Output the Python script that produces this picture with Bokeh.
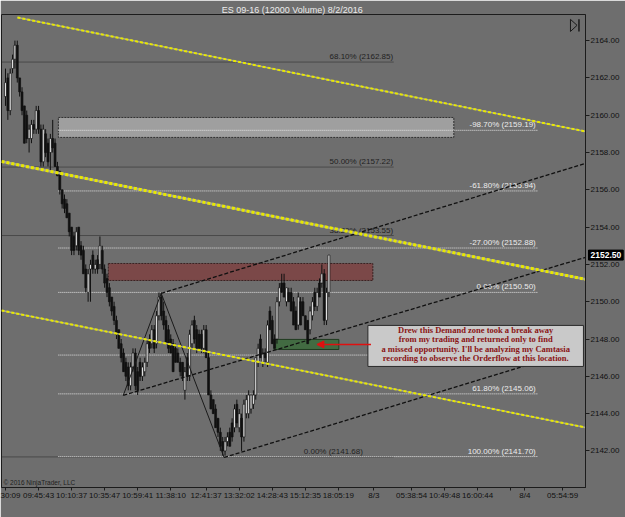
from bokeh.plotting import figure
from bokeh.models import Range1d, FixedTicker, PrintfTickFormatter, Label, Arrow, NormalHead, ColumnDataSource
from bokeh.core.properties import value
from bokeh.embed import file_html
from bokeh.resources import INLINE

title_text = "ES 09-16 (12000 Volume)  8/2/2016"

opens = [2161.0, 2162.0, 2160.25, 2162.5, 2163.0, 2163.75, 2162.0, 2161.25, 2160.5, 2160.0,
         2158.75, 2158.75, 2159.5, 2159.25, 2160.25, 2159.25, 2157.5, 2159.0, 2158.5, 2158.0,
         2158.75, 2158.5, 2157.25, 2157.0, 2156.0, 2155.5, 2155.25, 2154.75, 2154.0, 2153.5,
         2153.0, 2154.0, 2153.0, 2152.75, 2151.75, 2150.5, 2151.75, 2152.5, 2151.75, 2152.25,
         2152.0, 2152.75, 2151.75, 2151.25, 2150.75, 2150.25, 2149.75, 2149.0, 2148.5, 2147.75,
         2147.25, 2146.75, 2146.5, 2145.5, 2146.5, 2147.25, 2146.25, 2146.75, 2146.0, 2146.25,
         2146.75, 2148.0, 2147.75, 2148.5, 2147.75, 2149.25, 2150.25, 2149.5, 2149.0, 2148.5,
         2148.0, 2147.75, 2147.5, 2147.25, 2146.75, 2146.75, 2145.25, 2147.0, 2146.0, 2147.75,
         2149.0, 2148.5, 2148.25, 2148.25, 2147.5, 2148.5, 2147.0, 2145.0, 2144.75, 2144.25,
         2143.75, 2143.0, 2142.5, 2142.0, 2142.5, 2143.0, 2143.5, 2143.25, 2144.5, 2143.25,
         2143.75, 2142.75, 2144.0, 2144.0, 2144.25, 2144.5, 2145.0, 2146.75, 2148.0, 2146.75,
         2147.25, 2146.75, 2149.5, 2149.0, 2148.0, 2148.0, 2150.0, 2151.0, 2151.0, 2150.0,
         2150.5, 2150.5, 2150.0, 2149.5, 2148.75, 2150.0, 2150.0, 2149.25, 2149.0, 2148.5,
         2149.25, 2150.5, 2149.75, 2151.0, 2151.0, 2151.5, 2149.0, 2150.5]
highs = [2162.5, 2162.25, 2162.5, 2163.25, 2164.0, 2164.0, 2162.0, 2161.5, 2160.5, 2160.25,
         2159.5, 2159.75, 2159.75, 2160.5, 2160.5, 2159.5, 2159.5, 2159.25, 2158.75, 2159.0,
         2159.75, 2158.75, 2157.5, 2157.0, 2156.0, 2155.75, 2155.5, 2154.75, 2154.0, 2153.75,
         2154.0, 2154.0, 2153.25, 2153.0, 2152.0, 2151.75, 2152.25, 2152.75, 2152.25, 2152.5,
         2153.5, 2153.0, 2152.0, 2151.5, 2151.0, 2150.25, 2150.0, 2149.25, 2148.5, 2148.0,
         2147.5, 2147.0, 2146.75, 2146.75, 2147.5, 2147.5, 2146.5, 2147.0, 2146.75, 2147.0,
         2148.0, 2148.25, 2148.75, 2148.75, 2149.5, 2150.5, 2150.5, 2150.0, 2149.25, 2148.75,
         2148.25, 2148.0, 2147.75, 2147.5, 2147.0, 2146.75, 2146.5, 2147.25, 2148.5, 2149.0,
         2149.25, 2148.75, 2148.5, 2148.5, 2148.75, 2148.75, 2147.25, 2145.25, 2144.75, 2144.5,
         2143.75, 2143.25, 2142.75, 2142.75, 2143.0, 2143.25, 2143.75, 2144.5, 2144.75, 2144.25,
         2144.0, 2144.75, 2145.0, 2145.25, 2145.0, 2145.25, 2147.0, 2147.75, 2148.25, 2147.5,
         2147.5, 2149.0, 2149.75, 2149.25, 2148.25, 2150.25, 2151.0, 2151.5, 2151.5, 2150.75,
         2150.75, 2150.75, 2150.25, 2149.75, 2150.5, 2150.25, 2150.25, 2149.25, 2149.0, 2149.75,
         2150.25, 2150.75, 2150.75, 2151.25, 2152.0, 2151.75, 2150.75, 2152.5]
lows = [2160.5, 2159.75, 2160.0, 2162.25, 2162.5, 2161.75, 2161.0, 2160.0, 2158.5, 2158.5,
        2158.0, 2158.5, 2159.0, 2159.0, 2159.0, 2157.25, 2157.25, 2157.75, 2157.25, 2157.0,
        2158.0, 2157.25, 2156.75, 2155.75, 2155.0, 2154.75, 2154.5, 2153.5, 2152.5, 2152.5,
        2152.75, 2152.5, 2152.25, 2151.5, 2150.5, 2150.0, 2150.0, 2151.5, 2151.5, 2151.5,
        2151.75, 2151.5, 2150.75, 2150.25, 2149.75, 2149.25, 2148.75, 2148.0, 2147.5, 2146.75,
        2146.25, 2145.75, 2145.25, 2145.25, 2146.25, 2145.25, 2145.0, 2145.75, 2145.75, 2146.0,
        2146.5, 2147.25, 2147.5, 2147.25, 2147.5, 2149.0, 2149.0, 2148.5, 2147.75, 2147.25,
        2147.25, 2146.25, 2146.75, 2146.75, 2146.0, 2145.75, 2144.75, 2145.75, 2145.75, 2147.5,
        2147.75, 2147.25, 2147.5, 2147.25, 2147.25, 2147.0, 2145.0, 2144.25, 2144.0, 2143.25,
        2142.75, 2142.0, 2141.75, 2141.75, 2142.25, 2142.25, 2142.5, 2143.0, 2143.25, 2143.0,
        2142.0, 2142.5, 2143.75, 2143.75, 2144.0, 2144.25, 2144.75, 2146.5, 2147.0, 2146.5,
        2146.75, 2146.5, 2148.5, 2147.75, 2147.5, 2147.75, 2149.75, 2150.5, 2150.25, 2149.75,
        2150.0, 2149.5, 2148.75, 2148.5, 2148.5, 2148.75, 2149.25, 2148.5, 2147.75, 2148.25,
        2149.0, 2149.5, 2149.5, 2150.25, 2150.75, 2148.75, 2148.75, 2150.25]
closes = [2161.75, 2160.25, 2162.25, 2163.0, 2163.75, 2162.0, 2161.25, 2160.25, 2158.5, 2158.75,
          2159.25, 2159.5, 2159.25, 2160.25, 2159.25, 2157.5, 2159.25, 2158.0, 2157.5, 2158.75,
          2158.25, 2157.25, 2156.75, 2156.0, 2155.25, 2155.0, 2154.5, 2153.75, 2152.75, 2152.75,
          2153.75, 2152.75, 2152.5, 2151.5, 2150.75, 2151.5, 2152.0, 2151.75, 2152.0, 2151.75,
          2153.0, 2151.75, 2151.0, 2150.5, 2150.0, 2149.5, 2149.0, 2148.25, 2147.5, 2147.0,
          2146.25, 2146.0, 2145.5, 2146.5, 2147.25, 2145.5, 2145.25, 2146.0, 2146.5, 2146.75,
          2147.75, 2147.5, 2148.5, 2147.5, 2149.25, 2150.25, 2149.25, 2148.75, 2147.75, 2147.5,
          2147.25, 2146.25, 2146.75, 2146.75, 2146.25, 2146.0, 2146.25, 2146.0, 2148.25, 2148.75,
          2148.0, 2147.5, 2147.5, 2147.5, 2148.5, 2147.0, 2145.0, 2144.25, 2144.0, 2143.25,
          2143.0, 2142.25, 2142.0, 2142.5, 2142.75, 2142.25, 2142.75, 2144.25, 2143.5, 2144.0,
          2142.75, 2144.5, 2144.75, 2145.0, 2145.0, 2145.0, 2147.0, 2147.5, 2147.0, 2147.25,
          2147.0, 2148.75, 2148.5, 2147.75, 2147.5, 2150.0, 2150.75, 2150.5, 2150.25, 2150.75,
          2150.0, 2149.5, 2148.75, 2148.5, 2150.25, 2148.75, 2149.25, 2148.5, 2147.75, 2149.5,
          2150.0, 2149.75, 2150.5, 2150.25, 2151.5, 2149.0, 2150.5, 2152.5]

time_ticks = [0, 14, 28, 42, 56, 70, 85, 99, 113, 127, 141, 156, 172, 186, 200, 214, 220, 236]
time_labels = ["30:09", "09:45:43", "10:10:37", "10:35:47", "10:59:41", "11:38:10", "12:41:37",
               "13:32:02", "14:28:43", "15:12:35", "18:05:19", "8/3", "05:38:54", "10:49:48",
               "16:00:44", "", "8/4", "05:54:59"]
price_ticks = [2142, 2144, 2146, 2148, 2150, 2152, 2154, 2156, 2158, 2160, 2162, 2164]
last_price = 2152.50

# Fibonacci retracement (left, dark) and extension (right, white)
left_fib_levels = [2162.85, 2157.22, 2153.55, 2141.68]
left_fib_labels = ["68.10% (2162.85)", "50.00% (2157.22)", "38.20% (2153.55)", "0.00% (2141.68)"]
left_fib_span = [-1.69, 164.5]
right_fib_levels = [2159.19, 2155.94, 2152.88, 2150.50, 2147.14, 2145.06, 2141.70]
right_fib_labels = ["-98.70% (2159.19)", "-61.80% (2155.94)", "-27.00% (2152.88)", "0.00% (2150.50)",
                    "", "61.80% (2145.06)", "100.00% (2141.70)"]
right_fib_span = [22.4, 225.4]

# yellow trend lines  (bar index, price)
yellow_x0 = [5.07, -1.69, -1.69]
yellow_y0 = [2165.24, 2157.52, 2149.53]
yellow_x1 = [245.67, 245.67, 245.67]
yellow_y1 = [2159.13, 2151.20, 2143.26]
yellow_w = [2, 3, 2]

# black dashed channel lines
chan_x0 = [65.96, 49.89, 92.6]
chan_y0 = [2150.45, 2144.98, 2141.65]
chan_x1 = [245.67, 245.67, 245.67]
chan_y1 = [2157.42, 2152.38, 2147.55]

# zigzag pivots
pivot_x = [49.89, 65.96, 92.6]
pivot_y = [2144.98, 2150.45, 2141.65]

# zones: left, right, top, bottom
supply_zone = [22.4, 189.9, 2159.88, 2158.81]
red_zone = [43.55, 155.6, 2152.05, 2151.14]
demand_zone = [113.7, 141.2, 2147.98, 2147.44]
note_box = [153.5, 244.8, 2148.73, 2146.53]
note_lines = ["Drew this Demand zone took a break away",
              "from my trading and returned only to find",
              "a missed opportunity. I'll be analyzing my Camtasia",
              "recording to observe the Orderflow at this location."]
arrow_from = [154.8, 2147.71]
arrow_to = [131.9, 2147.71]

BG = "#6e6e6e"
DARK = "#1c1c1c"

p = figure(frame_width=584, frame_height=473, min_border_left=1, min_border_right=40,
           min_border_top=14, min_border_bottom=30,
           x_range=Range1d(-1.69, 245.67), y_range=Range1d(2140.04, 2165.40),
           y_axis_location="right", output_backend="svg", toolbar_location=None,
           background_fill_color=BG, border_fill_color=BG, outline_line_color=DARK)

p.title.text = title_text
p.title.align = "center"
p.title.text_color = "#ececec"
p.title.text_font = "Liberation Sans"
p.title.text_font_size = "9px"
p.title.text_font_style = "normal"
p.title.standoff = 0

p.grid.visible = False

ya = p.yaxis[0]
ya.ticker = FixedTicker(ticks=price_ticks)
ya.formatter = PrintfTickFormatter(format="%.2f")
ya.major_label_text_font = "Liberation Sans"
ya.major_label_text_font_size = "8px"
ya.major_label_text_color = "#111111"
ya.axis_line_color = DARK
ya.major_tick_line_color = DARK
ya.major_tick_out = 4
ya.major_tick_in = 0
ya.minor_tick_out = 0
ya.minor_tick_in = 0
ya.major_label_standoff = 1

xa = p.xaxis[0]
xa.ticker = FixedTicker(ticks=time_ticks)
xa.major_label_overrides = {t: lab for t, lab in zip(time_ticks, time_labels)}
xa.major_label_text_font = "Liberation Sans"
xa.major_label_text_font_size = "8px"
xa.major_label_text_color = "#111111"
xa.axis_line_color = DARK
xa.major_tick_line_color = DARK
xa.major_tick_out = 3
xa.major_tick_in = 0
xa.minor_tick_out = 0
xa.minor_tick_in = 0
xa.major_label_standoff = 0

# supply zone (grey)
p.quad(left=[supply_zone[0]], right=[supply_zone[1]], top=[supply_zone[2]], bottom=[supply_zone[3]],
       fill_color="#a4a4a4", fill_alpha=0.9, line_color="#2e2e2e", line_width=1, line_dash="2 1")
# red zone
p.quad(left=[red_zone[0]], right=[red_zone[1]], top=[red_zone[2]], bottom=[red_zone[3]],
       fill_color="#7b4646", fill_alpha=0.95, line_color="#3a2222", line_width=1, line_dash="2 1")
# demand zone (green)
p.quad(left=[demand_zone[0]], right=[demand_zone[1]], top=[demand_zone[2]], bottom=[demand_zone[3]],
       fill_color="#3f6a3f", fill_alpha=0.95, line_color="#1f3a1f", line_width=1)

# fib lines
n_l = len(left_fib_levels)
p.segment(x0=[left_fib_span[0]] * n_l, x1=[left_fib_span[1]] * n_l, y0=left_fib_levels, y1=left_fib_levels,
          line_color="#262626", line_width=1, line_dash="1 1")
n_r = len(right_fib_levels)
p.segment(x0=[right_fib_span[0]] * n_r, x1=[right_fib_span[1]] * n_r, y0=right_fib_levels, y1=right_fib_levels,
          line_color="#e4e4e4", line_width=1, line_dash="1 1")

# fib labels
lab_x_left = [left_fib_span[1] - 0.3] * (n_l - 1) + [151.4]
p.text(x=lab_x_left, y=left_fib_levels, text=left_fib_labels, text_align="right", text_baseline="bottom",
       y_offset=-1, text_font=value("Liberation Sans"), text_font_size="8px", text_color="#222222")
p.text(x=[right_fib_span[1] - 0.8] * n_r, y=right_fib_levels, text=right_fib_labels, text_align="right",
       text_baseline="bottom", y_offset=-1, text_font=value("Liberation Sans"), text_font_size="8px",
       text_color="#ececec")

# candlesticks
n = len(opens)
idx = list(range(n))
src = ColumnDataSource(dict(
    x=idx, h=highs, l=lows,
    top=[max(o, c) for o, c in zip(opens, closes)],
    bottom=[min(o, c) for o, c in zip(opens, closes)],
    fill=["#f4f4f4" if c > o else "#111111" for o, c in zip(opens, closes)],
))
p.segment(x0="x", y0="h", x1="x", y1="l", source=src, line_color="#111111", line_width=1)
p.vbar(x="x", width=0.8, top="top", bottom="bottom", source=src, fill_color="fill",
       line_color="#111111", line_width=0.7)

# zigzag
p.line(x=pivot_x, y=pivot_y, line_color="#1a1a1a", line_width=1)

# channel lines
for x0, y0, x1, y1 in zip(chan_x0, chan_y0, chan_x1, chan_y1):
    p.line(x=[x0, x1], y=[y0, y1], line_color="#101010", line_width=1.3, line_dash="4 2")

# yellow lines (dashed yellow over a pale gray core)
for x0, y0, x1, y1, w in zip(yellow_x0, yellow_y0, yellow_x1, yellow_y1, yellow_w):
    p.line(x=[x0, x1], y=[y0, y1], line_color="#a8a890", line_width=w - 0.5)
    p.line(x=[x0, x1], y=[y0, y1], line_color="#e8e800", line_width=w, line_dash="3 2")

# note box
p.quad(left=[note_box[0]], right=[note_box[1]], top=[note_box[2]], bottom=[note_box[3]],
       fill_color="#c9c9c9", line_color="#2a2a2a", line_width=1)
step = (note_box[2] - note_box[3]) / 4.3
note_y = [note_box[2] - step * (0.45 + k) for k in range(len(note_lines))]
p.text(x=[(note_box[0] + note_box[1]) / 2] * len(note_lines), y=note_y, text=note_lines,
       text_align="center", text_baseline="middle", text_font=value("Liberation Serif"),
       text_font_size="8.5px", text_font_style="bold", text_color="#8a1414")

# red arrow
p.add_layout(Arrow(end=NormalHead(size=7, fill_color="#e01010", line_color="#e01010"),
                   x_start=arrow_from[0], y_start=arrow_from[1], x_end=arrow_to[0], y_end=arrow_to[1],
                   line_color="#e01010", line_width=1.5))

# go-to-end icon
p.line(x=[239.3, 239.3, 242.1, 239.3], y=[2165.14, 2164.49, 2164.82, 2165.14], line_color="#1a1a1a", line_width=1)
p.segment(x0=[242.9], x1=[242.9], y0=[2165.14], y1=[2164.49], line_color="#1a1a1a", line_width=1.5)

# copyright
p.text(x=[-0.85], y=[2140.31], text=["\u00a9 2016 NinjaTrader, LLC"], text_align="left", text_baseline="middle",
       text_font=value("Liberation Sans"), text_font_size="6.5px", text_color="#202020")

# last price marker, placed in a side panel to the right of the frame
p.add_layout(Label(x=-34, x_units="screen", y=last_price, text="%.2f" % last_price,
                   text_font="Liberation Sans", text_font_size="8.5px", text_font_style="bold",
                   text_color="white", text_baseline="middle", padding=2,
                   background_fill_color="black", border_line_color="black"), "right")

open("out.html", "w").write(file_html(p, INLINE))
